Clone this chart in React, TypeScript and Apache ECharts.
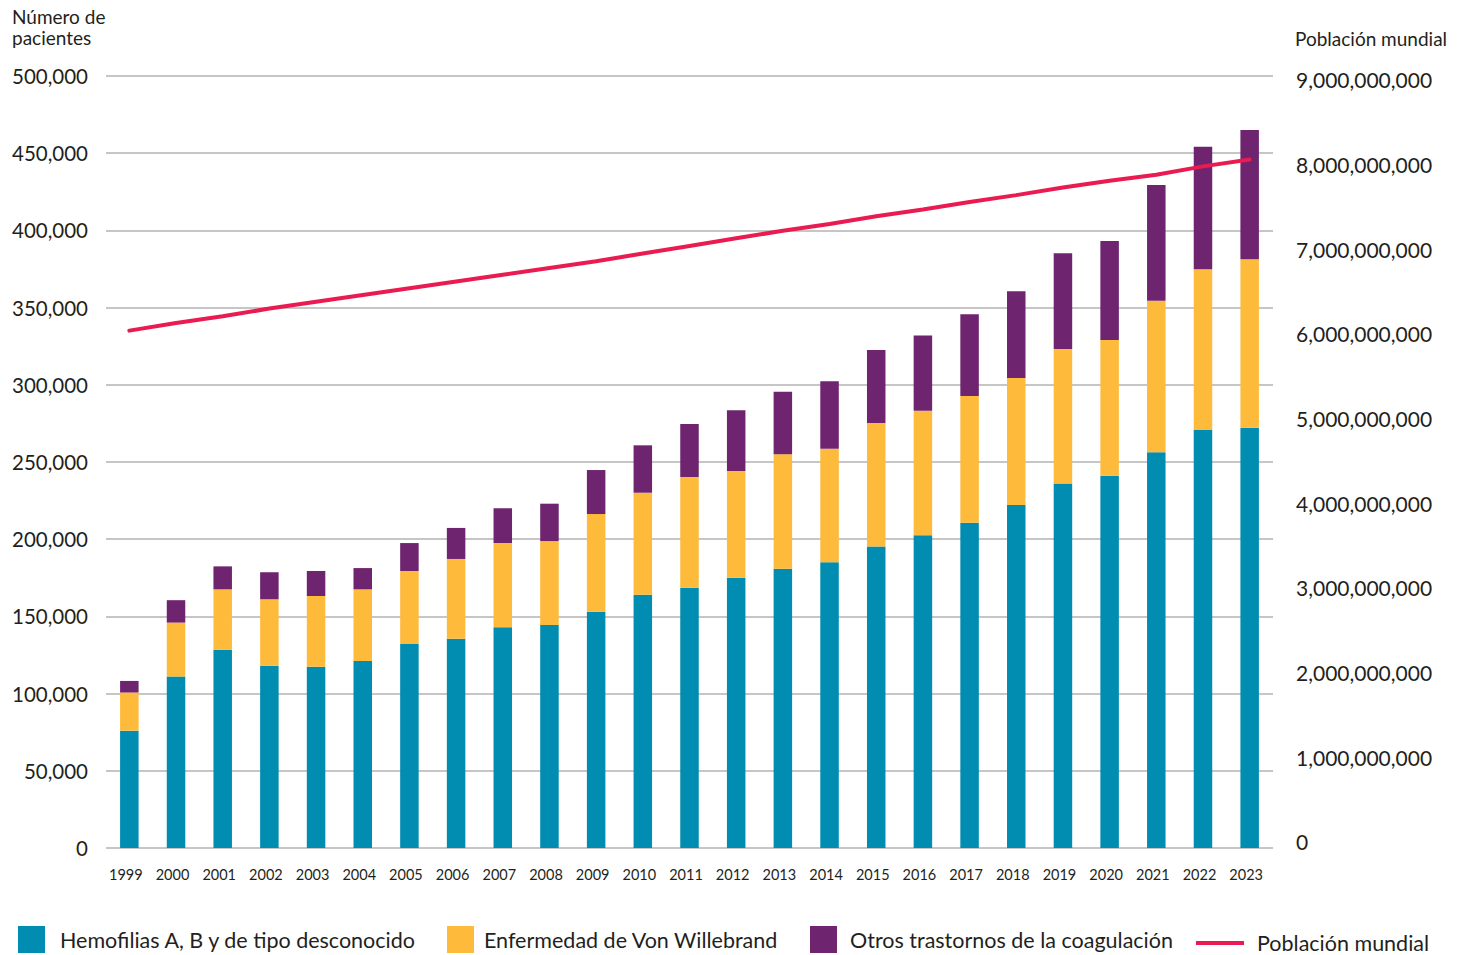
import React, { useEffect, useRef } from "react";
import * as echarts from "echarts";

const years = ["1999","2000","2001","2002","2003","2004","2005","2006","2007","2008","2009","2010","2011","2012","2013","2014","2015","2016","2017","2018","2019","2020","2021","2022","2023"];
const hemofilias = [76000,111000,128400,118100,117400,121100,132100,135600,142900,144400,153000,164100,168600,175100,180900,185000,195200,202500,210700,222200,236000,241100,256300,270700,272200];
const vonWillebrand = [24700,35000,39100,43000,45800,46400,47300,51600,54600,54400,63300,66000,71700,69100,74100,73600,80100,80700,82100,82200,87200,87900,98200,104100,109100];
const otros = [7500,14500,14900,17500,16200,13800,18100,20100,22500,24200,28500,30700,34300,39300,40500,43700,47300,48800,52900,56200,62000,64100,74900,79400,83700];
const poblacion = [6.04e9,6.13e9,6.21e9,6.30e9,6.38e9,6.46e9,6.54e9,6.62e9,6.70e9,6.78e9,6.86e9,6.95e9,7.04e9,7.13e9,7.22e9,7.30e9,7.39e9,7.47e9,7.56e9,7.64e9,7.73e9,7.81e9,7.88e9,7.98e9,8.06e9];
const rightTicks = [0,1e9,2e9,3e9,4e9,5e9,6e9,7e9,8e9,9e9];

const seriesNames = ["Hemofilias A, B y de tipo desconocido","Enfermedad de Von Willebrand","Otros trastornos de la coagulación","Población mundial"];
const colors = ["#008db1","#fdba3b","#6f246f","#e91b50"];

const FONT = "Lato, 'Noto Sans', sans-serif";
const fmt = (v: number) => Math.round(v).toLocaleString("en-US");

const legendText = (gap: number, top: number) => ({ fontSize: 21.5, color: "#231f20", fontFamily: FONT, padding: [top, 0, 0, gap] });

export default function App() {
  const ref = useRef<HTMLDivElement>(null);
  useEffect(() => {
    document.body.style.margin = "0";
    const chart = echarts.init(ref.current!, null, { renderer: "svg" });
    const legendLefts = [18, 447, 810];
    const legendGaps = [10, 5, 8];
    chart.setOption({
      animation: false,
      textStyle: { fontFamily: FONT, color: "#231f20" },
      grid: { left: 106, right: 195, top: 76, bottom: 107, containLabel: false, outerBoundsMode: "none" },
      legend: [
        ...legendLefts.map((l, i) => ({
          data: [seriesNames[i]],
          left: l, top: 926, padding: 0,
          itemWidth: 27, itemHeight: 27,
          icon: "rect",
          textStyle: legendText(legendGaps[i], 7),
        })),
        {
          data: [{ name: seriesNames[3], icon: "path://M0,0 L48,0 L48,4 L0,4 Z" }],
          left: 1196, top: 932, padding: 0,
          itemWidth: 48, itemHeight: 27,
          textStyle: legendText(8, 3),
        },
      ],
      xAxis: {
        type: "category",
        data: years,
        axisLine: { show: false },
        axisTick: { show: false },
        axisLabel: { interval: 0, fontSize: 14.5, color: "#231f20", margin: 19, fontFamily: FONT, padding: [0, 7, 0, 0] },
      },
      yAxis: [
        {
          type: "value",
          min: 0, max: 500000, interval: 50000,
          axisLine: { show: false }, axisTick: { show: false },
          splitLine: { lineStyle: { color: "#c6c6c6", width: 2 } },
          axisLabel: { fontSize: 20.5, color: "#231f20", margin: 18, formatter: fmt, fontFamily: FONT },
        },
        {
          type: "value",
          min: -70.9e6, max: 9.0472e9,
          axisLine: { show: false }, axisTick: { show: false },
          splitLine: { show: false },
          axisLabel: { fontSize: 21, color: "#231f20", margin: 23, formatter: fmt, customValues: rightTicks, fontFamily: FONT },
        },
      ],
      graphic: [
        { type: "text", left: 12, top: 6, style: { text: "Número de\npacientes", fontSize: 19, lineHeight: 21, fill: "#231f20", fontFamily: FONT } },
        { type: "text", left: 1295, top: 29, style: { text: "Población mundial", fontSize: 19, fill: "#231f20", fontFamily: FONT } },
      ],
      series: [
        { name: seriesNames[0], type: "bar", stack: "p", data: hemofilias, barWidth: 18.5, itemStyle: { color: colors[0] } },
        { name: seriesNames[1], type: "bar", stack: "p", data: vonWillebrand, barWidth: 18.5, itemStyle: { color: colors[1] } },
        { name: seriesNames[2], type: "bar", stack: "p", data: otros, barWidth: 18.5, itemStyle: { color: colors[2] } },
        {
          name: seriesNames[3], type: "line", yAxisIndex: 1, data: poblacion,
          symbol: "none", showSymbol: false,
          lineStyle: { color: colors[3], width: 4, cap: "round" },
          itemStyle: { color: colors[3] },
          z: 5,
        },
      ],
    });
    return () => chart.dispose();
  }, []);
  return <div ref={ref} style={{ width: 1468, height: 955 }} />;
}
